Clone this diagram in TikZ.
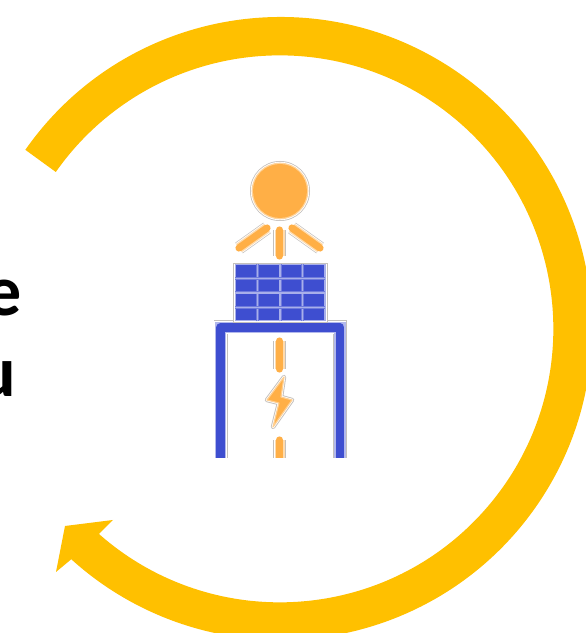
\documentclass[tikz,border=0pt]{standalone}
\usepackage{fontspec}
\setmainfont{Carlito}
\usetikzlibrary{calc}
\definecolor{ringyellow}{RGB}{255,192,0}
\definecolor{sunorange}{RGB}{255,175,70}
\definecolor{cellblue}{RGB}{62,78,208}
\definecolor{halogray}{RGB}{196,192,188}

\begin{document}
\begin{tikzpicture}[
		x=1pt,
		y=1pt,
		ringshape/.style={
			fill=ringyellow,
			draw=none
		},
		word/.style={
			font=\fontsize{72}{79}\selectfont\bfseries,
			text=black,
			anchor=base east,
			inner sep=0pt
		},
		ray/.style={
			preaction={draw=halogray,line width=13pt},
			preaction={draw=white,line width=11.6pt},
			preaction={draw=sunorange!45,line width=10pt},
			draw=sunorange,
			line width=7.2pt,
			line cap=round
		},
		frameline/.style={
			preaction={draw=halogray,line width=14pt},
			preaction={draw=white,line width=12.8pt},
			preaction={draw=cellblue!40,line width=11.6pt},
			draw=cellblue,
			line width=8.6pt,
			line join=round
		},
		gridline/.style={
			preaction={draw=cellblue!75,line width=3pt},
			draw=white!55!cellblue,
			line width=1.4pt
		}
	]
		\useasboundingbox (0,0) rectangle (586,633);
		\clip (0,0) rectangle (586,633);
		\fill[white] (0,0) rectangle (586,633);

		\coordinate (ringc) at (280.5,304.5);
		\fill[ringshape] ($(ringc)+(145:311.5)$) arc[start angle=145,end angle=-132.2,radius=311.5]
			-- (56,61) -- (65,107) -- (113,113) -- (99,99)
			arc[start angle=-131.4,end angle=145,radius=273.5] -- cycle;

		\node[word] (worde) at (22,317) {e};
		\node[word] (wordu) at (16,236) {u};

		\begin{scope}
			\clip (200,175) rectangle (360,480);

			\draw[frameline] (220.5,150) -- (220.5,305.5) -- (340,305.5) -- (340,150);

			\draw[halogray,line width=0.9pt,fill=white] (233,311) rectangle (327,370);
			\fill[cellblue!45] (234.5,311.5) rectangle (325.5,368.5);
			\fill[cellblue] (236,312.5) rectangle (324,367.5);
			\foreach \x in {257.5,280,302.5}
				\draw[gridline] (\x,311.5) -- (\x,368.5);
			\foreach \y in {325.5,340,354.5}
				\draw[gridline] (235,\y) -- (325,\y);

			\draw[ray] (279.5,377) -- (279.5,403);
			\draw[ray] (267,405) -- (239,385);
			\draw[ray] (292,405) -- (320,385);

			\fill[halogray] (280,442) circle (30);
			\fill[white] (280,442) circle (29.2);
			\fill[sunorange!55] (280,442) circle (28.3);
			\fill[sunorange] (280,442) circle (27);

			\draw[ray] (279.5,264) -- (279.5,292);
			\draw[ray] (279.5,170) -- (279.5,193);

			\draw[halogray,line width=4.4pt,line join=round,fill=white] (284,256) -- (267,233) -- (279,230) -- (273,206) -- (292,233) -- (281,236) -- cycle;
			\draw[white,line width=2.6pt,line join=round,fill=sunorange] (284,256) -- (267,233) -- (279,230) -- (273,206) -- (292,233) -- (281,236) -- cycle;
			\draw[sunorange!60,line width=1.2pt,line join=round,fill=sunorange] (284,256) -- (267,233) -- (279,230) -- (273,206) -- (292,233) -- (281,236) -- cycle;
		\end{scope}
	\end{tikzpicture}
\end{document}
